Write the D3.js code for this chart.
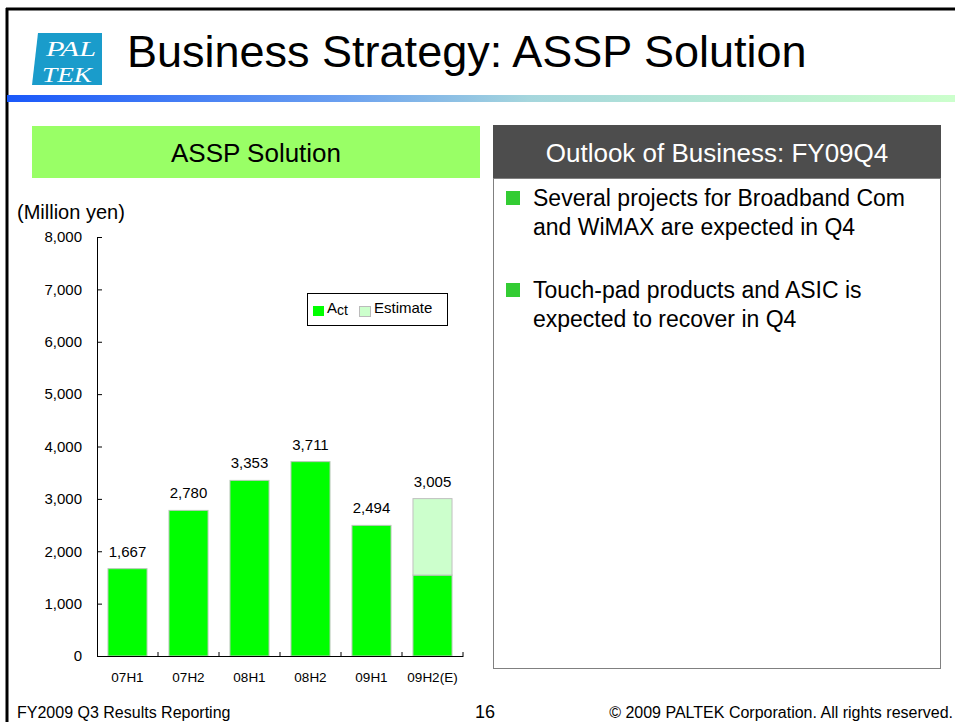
<!DOCTYPE html>
<html>
<head>
<meta charset="utf-8">
<script src="https://cdn.jsdelivr.net/npm/d3@7"></script>
<style>
  body { margin: 0; background: #fff; }
  svg { display: block; font-family: Arial, 'Liberation Sans', sans-serif; }
</style>
</head>
<body>
<script>
const W = 955
const H = 722

// chart data (million yen)
const categories = ['07H1', '07H2', '08H1', '08H2', '09H1', '09H2(E)']
const actual = [1667, 2780, 3353, 3711, 2494, 1545]
const estimate = [0, 0, 0, 0, 0, 1460]
const totals = [1667, 2780, 3353, 3711, 2494, 3005]
const yTicks = [0, 1000, 2000, 3000, 4000, 5000, 6000, 7000, 8000]
const bullets = [
  ['Several projects for Broadband Com', 'and WiMAX are expected in Q4'],
  ['Touch-pad products and ASIC is', 'expected to recover in Q4']
]

const svg = d3.select('body').append('svg')
  .attr('width', W)
  .attr('height', H)

// slide frame
svg.append('line').attr('x1', 6).attr('x2', W).attr('y1', 9).attr('y2', 9)
  .attr('stroke', '#000').attr('stroke-width', 3)
svg.append('line').attr('x1', 7).attr('x2', 7).attr('y1', 8).attr('y2', H)
  .attr('stroke', '#000').attr('stroke-width', 3)

// header gradient rule
const grad = svg.append('defs').append('linearGradient').attr('id', 'rule')
grad.append('stop').attr('offset', 0).attr('stop-color', '#1a58fa')
grad.append('stop').attr('offset', 0.35).attr('stop-color', '#6a9ff0')
grad.append('stop').attr('offset', 0.55).attr('stop-color', '#a5d6dd')
grad.append('stop').attr('offset', 1).attr('stop-color', '#ccffcc')
svg.append('rect').attr('x', 7).attr('y', 95).attr('width', W - 7).attr('height', 7)
  .attr('fill', 'url(#rule)')

// logo
const logo = svg.append('g')
logo.append('polygon').attr('points', '38,33 102,33 102,85 32,85').attr('fill', '#1a9ccb')
logo.selectAll('text').data(['PAL', 'TEK']).enter().append('text')
  .attr('x', (d, i) => 46 - i * 4)
  .attr('y', (d, i) => 56 + i * 26)
  .attr('fill', '#fff')
  .attr('textLength', 50)
  .attr('lengthAdjust', 'spacingAndGlyphs')
  .style('font-family', "'Liberation Serif', serif")
  .style('font-style', 'italic')
  .style('font-size', '22px')
  .text(d => d)

svg.append('text').attr('x', 127).attr('y', 67)
  .style('font-size', '45px')
  .text('Business Strategy: ASSP Solution')

// left panel header
svg.append('rect').attr('x', 32).attr('y', 126).attr('width', 448).attr('height', 52)
  .attr('fill', '#99ff66')
svg.append('text').attr('x', 256).attr('y', 162)
  .style('font-size', '26px').style('text-anchor', 'middle')
  .text('ASSP Solution')

// right panel
svg.append('rect').attr('x', 493.5).attr('y', 178.5).attr('width', 447).attr('height', 490)
  .attr('fill', 'none').attr('stroke', '#808080')
svg.append('rect').attr('x', 493).attr('y', 125).attr('width', 448).attr('height', 53)
  .attr('fill', '#4d4d4d')
svg.append('text').attr('x', 717).attr('y', 162)
  .style('font-size', '26px').style('text-anchor', 'middle').attr('fill', '#fff')
  .text('Outlook of Business: FY09Q4')

const bl = svg.append('g').selectAll('g').data(bullets).enter().append('g')
  .attr('transform', (d, i) => `translate(0,${i * 92})`)
bl.append('rect').attr('x', 506).attr('y', 191).attr('width', 14).attr('height', 14)
  .attr('fill', '#33cc33')
bl.selectAll('text').data(d => d).enter().append('text')
  .attr('x', 533)
  .attr('y', (d, i) => 206 + i * 29)
  .style('font-size', '23px')
  .text(d => d)

// bar chart
const x = d3.scaleBand().domain(categories).range([97, 463])
  .paddingInner(0.36).paddingOuter(0.18)
const y = d3.scaleLinear().domain([0, 8000]).range([656, 237])

const rows = categories.map((c, i) => ({ cat: c, act: actual[i], est: estimate[i], total: totals[i] }))

svg.append('text').attr('x', 17).attr('y', 219)
  .style('font-size', '20px')
  .text('(Million yen)')

svg.append('g')
  .attr('transform', 'translate(97,0)')
  .call(d3.axisLeft(y).tickValues(yTicks).tickSize(-5).tickPadding(15)
    .tickFormat(d3.format(',')).tickSizeOuter(0))
  .call(g => g.select('.domain').attr('stroke', '#000'))
  .call(g => g.selectAll('text').style('font-size', '15px').attr('fill', '#000')
    .style('font-family', "Arial, 'Liberation Sans', sans-serif"))

const bars = svg.append('g').selectAll('g').data(rows).enter().append('g')
bars.append('rect')
  .attr('x', d => x(d.cat))
  .attr('width', x.bandwidth())
  .attr('y', d => y(d.act))
  .attr('height', d => y(0) - y(d.act))
  .attr('fill', '#00ff00')
  .attr('stroke', '#b8c8b8')
bars.filter(d => d.est > 0).append('rect')
  .attr('x', d => x(d.cat))
  .attr('width', x.bandwidth())
  .attr('y', d => y(d.act + d.est))
  .attr('height', d => y(d.act) - y(d.act + d.est))
  .attr('fill', '#ccffcc')
  .attr('stroke', '#c0c0c0')
bars.append('text')
  .attr('x', d => x(d.cat) + x.bandwidth() / 2)
  .attr('y', d => y(d.total) - 12)
  .style('text-anchor', 'middle')
  .style('font-size', '15px')
  .text(d => d3.format(',')(d.total))

svg.append('g')
  .attr('transform', 'translate(0,656)')
  .call(d3.axisBottom(x).tickSize(0).tickPadding(16).tickSizeOuter(0))
  .call(g => g.select('.domain').attr('stroke', '#000'))
  .call(g => g.selectAll('text').style('font-size', '13.5px').attr('fill', '#000')
    .style('font-family', "Arial, 'Liberation Sans', sans-serif"))

// category separators on the x axis
svg.append('g').selectAll('line').data(categories.slice(1).concat(['end'])).enter().append('line')
  .attr('x1', (d, i) => 97 + x.step() * (i + 1))
  .attr('x2', (d, i) => 97 + x.step() * (i + 1))
  .attr('y1', 652).attr('y2', 656)
  .attr('stroke', '#000')

// legend
const lg = svg.append('g').attr('transform', 'translate(307,293)')
lg.append('rect').attr('x', 0.5).attr('y', 0.5).attr('width', 140).attr('height', 32)
  .attr('fill', '#fff').attr('stroke', '#000')
lg.append('rect').attr('x', 6).attr('y', 13).attr('width', 11).attr('height', 10)
  .attr('fill', '#00ff00')
const act = lg.append('text').attr('x', 20).attr('y', 20).style('font-size', '15px')
act.append('tspan').text('A')
act.append('tspan').attr('dy', 2).style('font-size', '14px').text('ct')
lg.append('rect').attr('x', 52.5).attr('y', 13.5).attr('width', 11).attr('height', 10)
  .attr('fill', '#ccffcc').attr('stroke', '#bbb')
lg.append('text').attr('x', 67).attr('y', 20).style('font-size', '15px').text('Estimate')

// footer
svg.append('text').attr('x', 17).attr('y', 718).style('font-size', '16px')
  .text('FY2009 Q3 Results Reporting')
svg.append('text').attr('x', 475).attr('y', 718).style('font-size', '18px')
  .text('16')
svg.append('text').attr('x', 953).attr('y', 718).style('font-size', '16px')
  .style('text-anchor', 'end')
  .text('© 2009 PALTEK Corporation. All rights reserved.')
</script>
</body>
</html>
